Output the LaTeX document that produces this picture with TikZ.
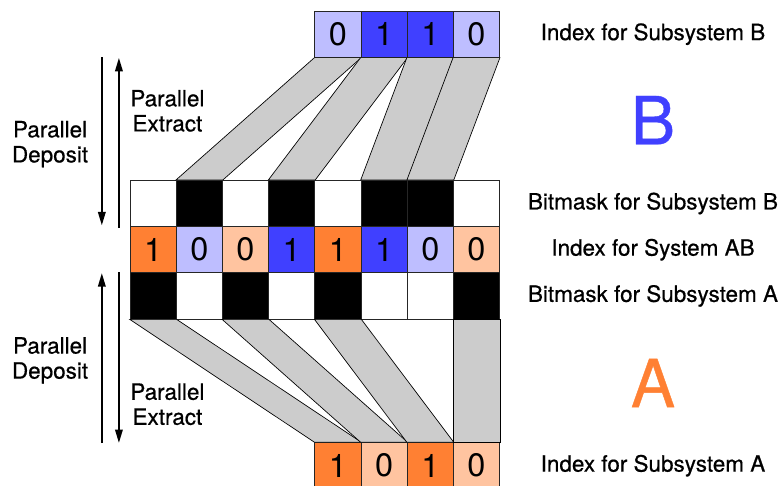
\documentclass[tikz,border=0pt]{standalone}
\usepackage{fontspec}
\setmainfont{TeX Gyre Heros}
\newfontfamily\labelfont[FakeBold=0.6]{TeX Gyre Heros}
\usetikzlibrary{arrows.meta}

\definecolor{orangeA}{RGB}{255,128,51}
\definecolor{peachA}{RGB}{255,196,160}
\definecolor{blueB}{RGB}{64,64,255}
\definecolor{paleB}{RGB}{190,190,255}
\definecolor{bandgray}{RGB}{204,204,204}

\begin{document}
\begin{tikzpicture}[x=1.2cm, y=-1.2cm,
        cell/.style={draw=black!85, line width=0.5pt, minimum size=1.2cm, inner sep=0pt,
                font=\fontsize{24}{24}\selectfont},
        band/.style={fill=bandgray, draw=black, line width=0.5pt},
        flow/.style={line width=1.5pt, -{Triangle[length=10pt, width=5.5pt]}},
        rowtext/.style={font=\labelfont\fontsize{16.6}{18.5}\selectfont, align=center},
        bigtext/.style={font=\labelfont\fontsize{49}{49}\selectfont}]
    \useasboundingbox (-2.814, 0) rectangle (14.134, 10.519);
    \newcommand{\rowIdxB}{0.74}
    \newcommand{\rowMaskB}{4.405}
    \newcommand{\rowAB}{5.405}
    \newcommand{\rowMaskA}{6.405}
    \newcommand{\rowIdxA}{10.08}
    \newcommand{\textcol}{11.32}

    % Index for subsystem B
    \foreach \i/\v/\c in {0/0/paleB, 1/1/blueB, 2/1/blueB, 3/0/paleB} {
            \node[cell, fill=\c] (IdxB-\i) at (\i+4.5, \rowIdxB) {\v};
        }
    % Bitmask B
    \foreach \i/\c in {0/white, 1/black, 2/white, 3/black, 4/white, 5/black, 6/black, 7/white} {
            \node[cell, fill=\c] (MaskB-\i) at (\i+0.5, \rowMaskB) {};
        }
    % Index for system AB
    \foreach \i/\v/\c in {0/1/orangeA, 1/0/paleB, 2/0/peachA, 3/1/blueB,
            4/1/orangeA, 5/1/blueB, 6/0/paleB, 7/0/peachA} {
            \node[cell, fill=\c] (AB-\i) at (\i+0.5, \rowAB) {\v};
        }
    % Bitmask A
    \foreach \i/\c in {0/black, 1/white, 2/black, 3/white, 4/black, 5/white, 6/white, 7/black} {
            \node[cell, fill=\c] (MaskA-\i) at (\i+0.5, \rowMaskA) {};
        }
    % Index for subsystem A
    \foreach \i/\v/\c in {0/1/orangeA, 1/0/peachA, 2/1/orangeA, 3/0/peachA} {
            \node[cell, fill=\c] (IdxA-\i) at (\i+4.5, \rowIdxA) {\v};
        }

    % Bands between the rows
    \foreach \j/\k in {0/1, 1/3, 2/5, 3/6} {
            \draw[band] (IdxB-\j.south west) -- (IdxB-\j.south east)
            -- (MaskB-\k.north east) -- (MaskB-\k.north west) -- cycle;
        }
    \foreach \k/\j in {0/0, 2/1, 4/2, 7/3} {
            \draw[band] (MaskA-\k.south west) -- (MaskA-\k.south east)
            -- (IdxA-\j.north east) -- (IdxA-\j.north west) -- cycle;
        }

    % Row labels
    \node[rowtext] (txtIdxB) at (\textcol, \rowIdxB) {Index for Subsystem B};
    \node[bigtext, text=blueB] (bigB) at (\textcol, 2.6) {B};
    \node[rowtext] (txtMaskB) at (\textcol, \rowMaskB) {Bitmask for Subsystem B};
    \node[rowtext] (txtAB) at (\textcol, \rowAB) {Index for System AB};
    \node[rowtext] (txtMaskA) at (\textcol, \rowMaskA) {Bitmask for Subsystem A};
    \node[bigtext, text=orangeA] (bigA) at (\textcol, 8.29) {A};
    \node[rowtext] (txtIdxA) at (\textcol, \rowIdxA) {Index for Subsystem A};

    % Deposit / extract arrows
    \coordinate (depB-s) at (-0.61, 1.24);
    \coordinate (depB-e) at (-0.61, 4.88);
    \coordinate (extB-s) at (-0.24, 4.93);
    \coordinate (extB-e) at (-0.24, 1.25);
    \coordinate (depA-s) at (-0.61, 9.59);
    \coordinate (depA-e) at (-0.61, 5.91);
    \coordinate (extA-s) at (-0.24, 5.89);
    \coordinate (extA-e) at (-0.24, 9.59);
    \draw[flow] (depB-s) -- (depB-e);
    \draw[flow] (extB-s) -- (extB-e);
    \draw[flow] (depA-s) -- (depA-e);
    \draw[flow] (extA-s) -- (extA-e);
    \node[rowtext] (txtDepB) at (-1.73, 3.12) {Parallel\\Deposit};
    \node[rowtext] (txtExtB) at (0.81, 2.40) {Parallel\\Extract};
    \node[rowtext] (txtDepA) at (-1.73, 7.80) {Parallel\\Deposit};
    \node[rowtext] (txtExtA) at (0.81, 8.75) {Parallel\\Extract};
\end{tikzpicture}
\end{document}
